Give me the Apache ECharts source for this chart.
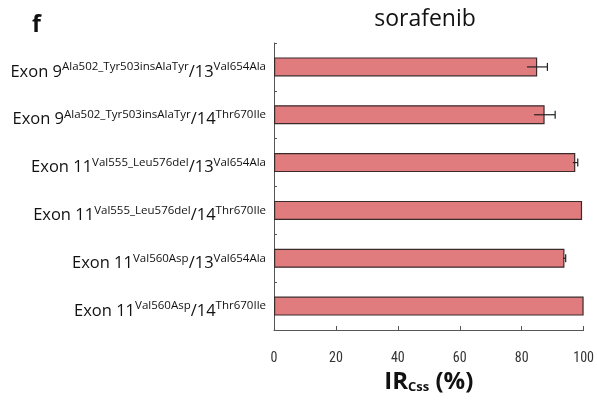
<!DOCTYPE html>
<html><head><meta charset="utf-8">
<script src="https://cdn.jsdelivr.net/npm/echarts@6/dist/echarts.min.js"></script>
<style>html,body{margin:0;padding:0;background:#fff}#c{width:597px;height:406px}</style>
</head><body><div id="c"></div>
<script>
const exonMain = ['Exon 9', 'Exon 9', 'Exon 11', 'Exon 11', 'Exon 11', 'Exon 11'];
const exonSup = ['Ala502_Tyr503insAlaTyr', 'Ala502_Tyr503insAlaTyr', 'Val555_Leu576del', 'Val555_Leu576del', 'Val560Asp', 'Val560Asp'];
const secMain = ['/13', '/14', '/13', '/14', '/13', '/14'];
const secSup = ['Val654Ala', 'Thr670Ile', 'Val654Ala', 'Thr670Ile', 'Val654Ala', 'Thr670Ile'];
const categories = exonMain.map((m, i) => m + exonSup[i] + secMain[i] + secSup[i]);
const values = [85.0, 87.4, 97.3, 99.5, 93.8, 100.0];
const errors = [3.3, 3.4, 0.8, 0, 0.4, 0];
const xTicks = [0, 20, 40, 60, 80, 100];

const chart = echarts.init(document.getElementById('c'));
const FONT = '"Open Sans", "Noto Sans", sans-serif';
chart.setOption({
  animation: false,
  backgroundColor: '#fff',
  grid: { left: 274, right: 9, top: 43, bottom: 76 },
  title: [
    { text: 'f', left: 27, top: 9, textStyle: { fontFamily: FONT, fontSize: 23, fontWeight: 'bold', color: '#111' } },
    { text: 'sorafenib', left: 420, top: 3, textAlign: 'center', textStyle: { fontFamily: FONT, fontSize: 23, fontWeight: 'normal', color: '#111' } }
  ],
  xAxis: {
    type: 'value', min: 0, max: 100, interval: 20,
    axisLine: { show: true, lineStyle: { color: '#555', width: 1 } },
    axisTick: { show: true, inside: true, length: 4, lineStyle: { color: '#555' } },
    splitLine: { show: false },
    axisLabel: { margin: 21, color: '#333', fontFamily: '"Liberation Sans Narrow", "Roboto Condensed", "DejaVu Sans Condensed", sans-serif', fontSize: 14,
      formatter: v => xTicks.includes(v) ? String(v) : '' },
    name: '{a|IR}{b|Css}{a| (%)}',
    nameLocation: 'middle', nameGap: 33,
    nameTextStyle: { rich: {
      a: { fontFamily: FONT, fontSize: 24, fontWeight: 'bold', color: '#111', verticalAlign: 'bottom' },
      b: { fontFamily: FONT, fontSize: 13, fontWeight: 'bold', color: '#111', verticalAlign: 'bottom' }
    } }
  },
  yAxis: {
    type: 'category', data: categories, inverse: true,
    axisLine: { show: true, lineStyle: { color: '#555', width: 1 } },
    axisTick: { show: true, inside: true, length: 3, alignWithLabel: false, lineStyle: { color: '#555' } },
    axisLabel: {
      margin: 8, color: '#111', padding: [10, 0, 0, 0],
      formatter: (v, i) => `{m|${exonMain[i]}}{s|${exonSup[i]}}{m|${secMain[i]}}{s|${secSup[i]}}`,
      rich: {
        m: { fontFamily: FONT, fontSize: 16.5, color: '#111', lineHeight: 22, verticalAlign: 'middle' },
        s: { fontFamily: FONT, fontSize: 11.5, color: '#111', lineHeight: 13, verticalAlign: 'top' }
      }
    }
  },
  series: [
    {
      type: 'bar', data: values, barWidth: 19,
      itemStyle: { color: '#e07c7e', borderColor: '#3a2a2a', borderWidth: 1.2 },
      z: 2
    },
    {
      type: 'custom', z: 3,
      data: values.map((v, i) => [i, v, errors[i]]),
      renderItem: (params, api) => {
        const i = api.value(0), v = api.value(1), e = api.value(2);
        if (!e) return null;
        const p1 = api.coord([v - e, i]);
        const p2 = api.coord([v + e, i]);
        const h = 4;
        const st = { stroke: '#222', lineWidth: 1.2 };
        return { type: 'group', children: [
          { type: 'line', shape: { x1: p1[0], y1: p1[1], x2: p2[0], y2: p2[1] }, style: st },
          { type: 'line', shape: { x1: p2[0], y1: p2[1] - h, x2: p2[0], y2: p2[1] + h }, style: st }
        ] };
      }
    }
  ]
});
</script></body></html>
